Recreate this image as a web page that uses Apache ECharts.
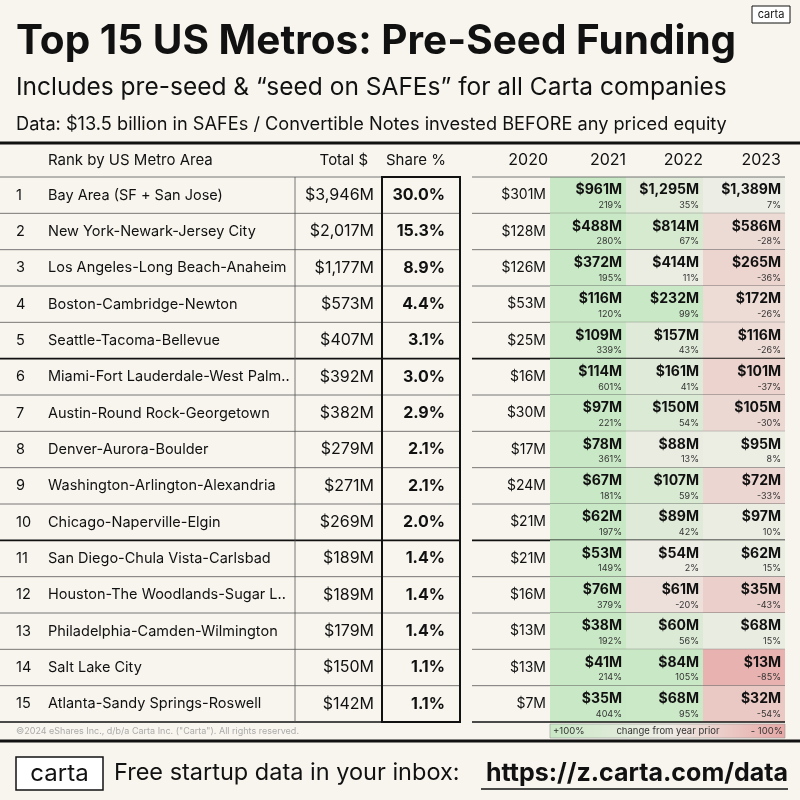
<!DOCTYPE html>
<html><head><meta charset="utf-8">
<script src="https://cdn.jsdelivr.net/npm/echarts@6/dist/echarts.min.js"></script>
<style>html,body{margin:0;padding:0;background:#f8f5ee}#c{width:800px;height:800px}</style>
</head><body><div id="c"></div>
<script>
const names=["Bay Area (SF + San Jose)","New York-Newark-Jersey City","Los Angeles-Long Beach-Anaheim","Boston-Cambridge-Newton","Seattle-Tacoma-Bellevue","Miami-Fort Lauderdale-West Palm..","Austin-Round Rock-Georgetown","Denver-Aurora-Boulder","Washington-Arlington-Alexandria","Chicago-Naperville-Elgin","San Diego-Chula Vista-Carlsbad","Houston-The Woodlands-Sugar L..","Philadelphia-Camden-Wilmington","Salt Lake City","Atlanta-Sandy Springs-Roswell"];
const totals=[3946,2017,1177,573,407,392,382,279,271,269,189,189,179,150,142];
const shares=[30.0,15.3,8.9,4.4,3.1,3.0,2.9,2.1,2.1,2.0,1.4,1.4,1.4,1.1,1.1];
const y2020=[301,128,126,53,25,16,30,17,24,21,21,16,13,13,7];
const y2021=[961,488,372,116,109,114,97,78,67,62,53,76,38,41,35];
const y2022=[1295,814,414,232,157,161,150,88,107,89,54,61,60,84,68];
const y2023=[1389,586,265,172,116,101,105,95,72,97,62,35,68,13,32];
const p2021=[219,280,195,120,339,601,221,361,181,197,149,379,192,214,404];
const p2022=[35,67,11,99,43,41,54,13,59,42,2,-20,56,105,95];
const p2023=[7,-28,-36,-26,-26,-37,-30,8,-33,10,15,-43,15,-85,-54];
const years=["2020","2021","2022","2023"];

const F='Inter, "Noto Sans", sans-serif';
const fmt=v=>'$'+v.toLocaleString('en-US')+'M';
function mix(a,b,t){const pa=[1,3,5].map(i=>parseInt(a.substr(i,2),16)),pb=[1,3,5].map(i=>parseInt(b.substr(i,2),16));return 'rgb('+pa.map((x,i)=>Math.round(x+(pb[i]-x)*t)).join(',')+')';}
const BG='#efede6',GR='#c9e8c5',RD='#e6a8a6';
function col(p){const t=Math.max(-1,Math.min(1,p/100));return t>=0?mix(BG,GR,t):mix(BG,RD,-t);}
const cy=[[550,626,y2021,p2021],[626,703,y2022,p2022],[703,785,y2023,p2023]];

function renderItem(params,api){
  const i=api.value(0);
  const top=api.coord([0,i])[1], bot=api.coord([0,i+1])[1], mid=(top+bot)/2;
  const X=x=>api.coord([x,0])[0];
  const ch=[];
  const txt=(x,y,s,o)=>ch.push({type:'text',style:Object.assign({x:X(x),y:y,text:s,font:'14.5px '+F,fill:'#111',textAlign:'left',textVerticalAlign:'middle'},o||{})});
  cy.forEach(([a,b,v,p])=>{
    ch.push({type:'rect',shape:{x:X(a),y:top,width:X(b)-X(a),height:bot-top},style:{fill:col(p[i])}});
    txt(b-4,mid-5,fmt(v[i]),{textAlign:'right',font:'bold 14px '+F});
    txt(b-4,mid+10,p[i]+'%',{textAlign:'right',font:'9px '+F,fill:'#333'});
  });
  txt(16,mid,String(i+1));
  txt(48,mid,names[i]);
  txt(374,mid,fmt(totals[i]),{textAlign:'right',font:'16px '+F});
  txt(445,mid,shares[i].toFixed(1)+'%',{textAlign:'right',font:'bold 16px '+F});
  txt(546,mid,fmt(y2020[i]),{textAlign:'right',font:'14px '+F});
  const thick=(i===4||i===9||i===14);
  const lw=thick?1.6:0.8, lc=thick?'#111':'#555';
  ch.push({type:'line',shape:{x1:X(0),y1:bot,x2:X(460),y2:bot},style:{stroke:lc,lineWidth:lw}});
  ch.push({type:'line',shape:{x1:X(472),y1:bot,x2:X(785),y2:bot},style:{stroke:lc,lineWidth:lw}});
  ch.push({type:'line',shape:{x1:X(295),y1:top,x2:X(295),y2:bot},style:{stroke:'#555',lineWidth:0.8}});
  if(i===0){
    const t0=api.coord([0,0])[1], b0=api.coord([0,15])[1];
    ch.push({type:'line',shape:{x1:X(0),y1:t0,x2:X(460),y2:t0},style:{stroke:'#555',lineWidth:0.8}});
    ch.push({type:'line',shape:{x1:X(472),y1:t0,x2:X(785),y2:t0},style:{stroke:'#555',lineWidth:0.8}});
    ch.push({type:'rect',z2:10,shape:{x:X(382),y:t0,width:X(460)-X(382),height:b0-t0},style:{fill:'none',stroke:'#111',lineWidth:2}});
    const hy=t0-17;
    ch.push({type:'text',style:{x:X(48),y:hy,text:'Rank by US Metro Area',font:'15px '+F,fill:'#111',textVerticalAlign:'middle'}});
    ch.push({type:'text',style:{x:X(368),y:hy,text:'Total $',font:'15px '+F,fill:'#111',textAlign:'right',textVerticalAlign:'middle'}});
    ch.push({type:'text',style:{x:X(446),y:hy,text:'Share %',font:'15px '+F,fill:'#111',textAlign:'right',textVerticalAlign:'middle'}});
    [548,626,703,781].forEach((x,k)=>ch.push({type:'text',style:{x:X(x),y:hy,text:years[k],font:'16px '+F,fill:'#111',textAlign:'right',textVerticalAlign:'middle'}}));
  }
  return {type:'group',children:ch};
}

const chart=echarts.init(document.getElementById('c'));
chart.setOption({
  backgroundColor:'#f8f5ee',
  animation:false,
  grid:{left:0,right:0,top:177,bottom:78},
  xAxis:{type:'value',min:0,max:800,show:false},
  yAxis:{type:'value',min:0,max:15,inverse:true,show:false},
  series:[{type:'custom',renderItem:renderItem,data:names.map((n,i)=>[i])}],
  graphic:[
    {type:'text',x:16,y:42,style:{text:'Top 15 US Metros: Pre-Seed Funding',font:'bold 40.5px '+F,fill:'#111',textVerticalAlign:'middle'}},
    {type:'text',x:16,y:88,style:{text:'Includes pre-seed & “seed on SAFEs” for all Carta companies',font:'24.5px '+F,fill:'#111',textVerticalAlign:'middle'}},
    {type:'text',x:16,y:125,style:{text:'Data: $13.5 billion in SAFEs / Convertible Notes invested BEFORE any priced equity',font:'18.2px '+F,fill:'#111',textVerticalAlign:'middle'}},
    {type:'rect',shape:{x:752,y:6,width:38,height:17},style:{fill:'#fff',stroke:'#111',lineWidth:1}},
    {type:'text',x:771,y:14.5,style:{text:'carta',font:'11px '+F,fill:'#111',textAlign:'center',textVerticalAlign:'middle'}},
    {type:'line',shape:{x1:0,y1:143,x2:800,y2:143},style:{stroke:'#111',lineWidth:3}},
    {type:'text',x:16,y:731,style:{text:'©2024 eShares Inc., d/b/a Carta Inc. ("Carta"). All rights reserved.',font:'9px '+F,fill:'#aaa',textVerticalAlign:'middle'}},
    {type:'rect',shape:{x:550,y:724,width:235,height:14},style:{fill:new echarts.graphic.LinearGradient(0,0,1,0,[{offset:0,color:GR},{offset:0.5,color:BG},{offset:1,color:RD}]),stroke:'#999',lineWidth:0.6}},
    {type:'text',x:553,y:731,style:{text:'+100%',font:'9.5px '+F,fill:'#333',textVerticalAlign:'middle'}},
    {type:'text',x:668,y:731,style:{text:'change from year prior',font:'9.5px '+F,fill:'#333',textAlign:'center',textVerticalAlign:'middle'}},
    {type:'text',x:783,y:731,style:{text:'- 100%',font:'9.5px '+F,fill:'#333',textAlign:'right',textVerticalAlign:'middle'}},
    {type:'line',shape:{x1:0,y1:741,x2:800,y2:741},style:{stroke:'#111',lineWidth:3}},
    {type:'rect',shape:{x:16,y:757,width:87,height:33},style:{fill:'#fff',stroke:'#111',lineWidth:1.5}},
    {type:'text',x:59.5,y:773.5,style:{text:'carta',font:'24px '+F,fill:'#111',textAlign:'center',textVerticalAlign:'middle'}},
    {type:'text',x:114,y:773,style:{text:'Free startup data in your inbox:',font:'23.5px '+F,fill:'#111',textVerticalAlign:'middle'}},
    {type:'text',x:788,y:773,style:{text:'https://z.carta.com/data',font:'bold 25px '+F,fill:'#111',textAlign:'right',textVerticalAlign:'middle'}},
    {type:'line',shape:{x1:481,y1:789,x2:788,y2:789},style:{stroke:'#111',lineWidth:1.5}}
  ]
});
</script></body></html>
